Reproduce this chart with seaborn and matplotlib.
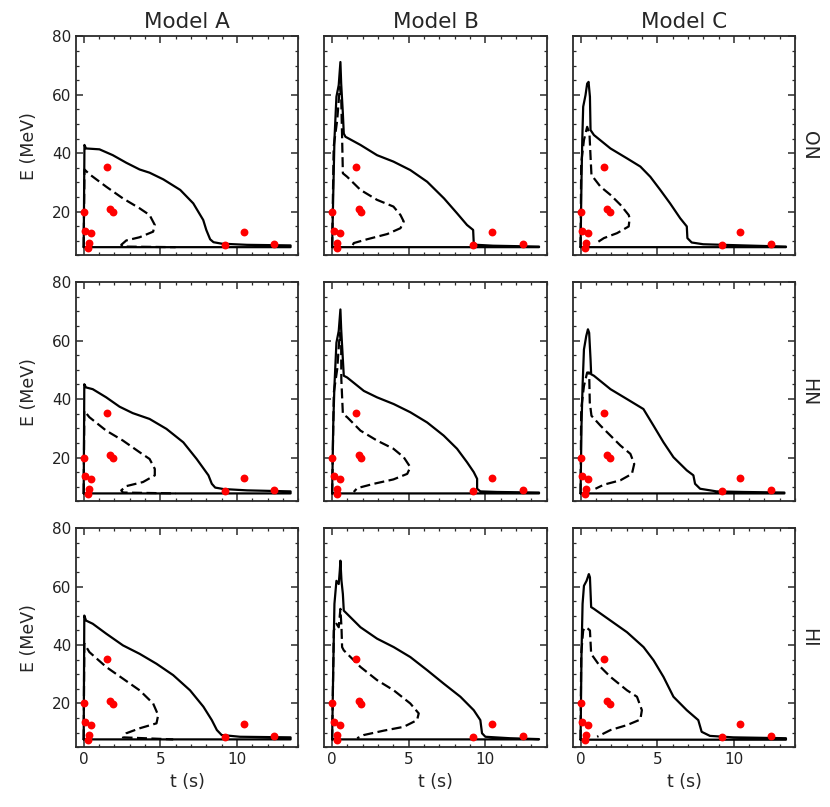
import matplotlib
matplotlib.use("Agg")
import matplotlib.pyplot as plt
from matplotlib.ticker import MultipleLocator
import seaborn as sns
import pandas as pd

# detected events (t in s, E in MeV)
EVENT_T = [0.0, 0.107, 0.303, 0.324, 0.507, 1.541, 1.728, 1.915, 9.219, 10.433, 12.439]
EVENT_E = [20.0, 13.5, 7.5, 9.2, 12.8, 35.4, 21.0, 19.8, 8.6, 13.0, 8.9]

MODELS = ["Model A", "Model B", "Model C"]
VARIANTS = ["ON", "HN", "HI"]

# ---- Model A ----
A_ON_SOLID_T = [0, 0.05, 0.15, 1.03, 1.9, 2.78, 3.65, 4.3, 5.2, 6.3, 7.15, 7.8, 8.0, 8.25, 8.47, 9.0, 10.65, 13.5, 13.5, 0]
A_ON_SOLID_E = [7.8, 42.8, 41.6, 41.3, 39.3, 36.7, 34.4, 33.3, 31.0, 27.4, 22.8, 17.1, 13.7, 10.5, 9.5, 9.0, 8.6, 8.4, 7.8, 7.8]
A_ON_DASH_T = [0, 0.05, 0.37, 1.47, 2.56, 3.65, 4.3, 4.64, 4.53, 3.65, 2.78, 2.45, 2.56, 6.0]
A_ON_DASH_E = [7.8, 34.4, 32.8, 28.5, 24.5, 21.1, 18.8, 15.4, 13.1, 11.2, 10.1, 8.6, 8.0, 7.8]

A_HN_SOLID_T = [0, 0.04, 0.15, 0.59, 1.47, 2.34, 3.2, 4.3, 5.4, 6.5, 7.37, 8.14, 8.36, 8.58, 9.12, 10.66, 13.5, 13.5, 0]
A_HN_SOLID_E = [7.7, 45.1, 44.0, 43.4, 40.6, 37.4, 35.2, 33.2, 29.8, 25.2, 19.5, 13.9, 11.0, 9.7, 9.2, 8.75, 8.4, 7.7, 7.7]
A_HN_DASH_T = [0, 0.04, 0.37, 1.47, 2.56, 3.65, 4.3, 4.64, 4.64, 3.87, 2.78, 2.45, 2.56, 6.0]
A_HN_DASH_E = [7.7, 36.0, 33.8, 29.2, 25.8, 21.8, 19.5, 16.1, 13.9, 11.6, 10.2, 8.75, 8.0, 7.7]

A_HI_SOLID_T = [0, 0.04, 0.15, 0.59, 1.47, 2.56, 3.65, 4.75, 5.84, 6.94, 7.81, 8.36, 8.69, 9.0, 10.2, 13.5, 13.5, 0]
A_HI_SOLID_E = [7.7, 50.1, 48.4, 47.3, 43.9, 39.9, 37.0, 33.6, 29.7, 24.5, 18.9, 14.3, 10.9, 9.2, 8.6, 8.4, 7.7, 7.7]
A_HI_DASH_T = [0, 0.04, 0.37, 1.47, 2.56, 3.65, 4.53, 4.86, 4.75, 3.65, 2.78, 2.56, 5.84]
A_HI_DASH_E = [7.7, 40.5, 37.6, 32.5, 28.5, 24.5, 20.0, 16.0, 13.2, 11.5, 9.8, 8.4, 7.7]

# ---- Model B ----
B_ON_SOLID_T = [0, 0.07, 0.15, 0.28, 0.43, 0.54, 0.59, 0.7, 0.76, 0.87, 1.85, 2.93, 4.0, 5.1, 6.2, 7.3, 8.15, 8.8, 9.2, 9.24, 9.45, 10.5, 13.5, 13.5, 0]
B_ON_SOLID_E = [7.8, 25.3, 44.5, 59.3, 63.3, 71.2, 63.8, 53.6, 46.7, 45.6, 42.8, 39.3, 37.1, 34.2, 30.2, 24.5, 19.4, 15.4, 13.7, 9.2, 8.6, 8.3, 8.0, 7.8, 7.8]
B_ON_DASH_T = [0, 0.1, 0.33, 0.5, 0.59, 0.65, 0.7, 0.98, 1.85, 2.93, 4.0, 4.46, 4.67, 4.46, 3.6, 2.28, 1.41, 1.3]
B_ON_DASH_E = [7.8, 42.2, 51.3, 62.7, 59.3, 45.6, 33.1, 31.9, 27.4, 24.0, 21.7, 18.8, 16.6, 14.3, 12.3, 10.5, 9.2, 8.0]

B_HN_SOLID_T = [0, 0.07, 0.15, 0.28, 0.43, 0.54, 0.59, 0.7, 0.76, 0.98, 2.07, 2.93, 4.02, 5.1, 6.2, 7.28, 8.15, 8.8, 9.24, 9.46, 9.46, 9.67, 10.76, 13.5, 13.5, 0]
B_HN_SOLID_E = [7.7, 30.9, 44.5, 59.3, 63.3, 70.7, 63.9, 53.6, 48.0, 47.4, 42.8, 40.6, 38.3, 35.5, 32.0, 27.5, 23.0, 18.4, 15.0, 12.7, 9.3, 8.4, 8.2, 8.0, 7.7, 7.7]
B_HN_DASH_T = [0, 0.11, 0.33, 0.5, 0.59, 0.6, 0.7, 0.98, 1.85, 2.93, 4.0, 4.67, 5.1, 4.9, 4.0, 2.72, 1.63, 1.41]
B_HN_DASH_E = [7.7, 42.3, 50.2, 62.7, 58.2, 46.8, 34.9, 33.8, 29.2, 25.8, 23.0, 20.1, 16.7, 14.4, 12.5, 11.0, 9.5, 8.2]

B_HI_SOLID_T = [0, 0.07, 0.15, 0.28, 0.43, 0.5, 0.54, 0.61, 0.7, 0.76, 1.85, 2.93, 4.02, 5.1, 6.2, 7.28, 8.37, 9.24, 9.67, 9.78, 10.0, 11.6, 13.5, 13.5, 0]
B_HI_SOLID_E = [7.7, 31.4, 54.1, 62.0, 60.9, 65.5, 68.9, 62.0, 57.5, 51.8, 46.1, 42.2, 39.3, 35.9, 31.4, 26.8, 22.3, 17.7, 14.3, 9.8, 8.6, 8.1, 7.8, 7.7, 7.7]
B_HI_DASH_T = [0, 0.11, 0.28, 0.43, 0.54, 0.61, 0.65, 0.76, 1.85, 2.93, 4.02, 5.1, 5.65, 5.54, 4.67, 3.37, 2.07, 1.63]
B_HI_DASH_E = [7.7, 45.0, 47.3, 46.1, 52.4, 46.1, 39.3, 38.2, 32.5, 28.0, 24.5, 20.0, 16.6, 14.3, 12.0, 10.7, 9.2, 8.1]

# ---- Model C ----
C_ON_SOLID_T = [0, 0.06, 0.11, 0.17, 0.32, 0.43, 0.52, 0.61, 0.65, 0.87, 1.95, 3.03, 3.9, 4.55, 5.2, 5.84, 6.5, 6.93, 6.97, 7.25, 8.0, 10.6, 13.4, 13.4, 0]
C_ON_SOLID_E = [7.8, 30.8, 44.5, 55.9, 59.8, 63.8, 64.4, 59.3, 47.9, 46.2, 41.6, 38.2, 35.4, 31.9, 27.4, 22.8, 17.7, 14.9, 10.9, 9.4, 8.8, 8.4, 8.0, 7.8, 7.8]
C_ON_DASH_T = [0, 0.04, 0.22, 0.43, 0.58, 0.65, 0.71, 1.3, 1.95, 2.6, 3.14, 3.2, 3.14, 2.38, 1.52, 1.08]
C_ON_DASH_E = [7.8, 36.5, 44.5, 49.0, 46.7, 38.8, 32.5, 28.5, 25.7, 22.3, 18.8, 17.7, 14.9, 12.6, 10.9, 9.4]

C_HN_SOLID_T = [0, 0.06, 0.13, 0.22, 0.37, 0.48, 0.56, 0.65, 0.69, 0.87, 1.95, 3.03, 4.1, 4.76, 5.41, 6.06, 6.93, 7.36, 7.47, 7.8, 8.87, 10.6, 13.3, 13.3, 0]
C_HN_SOLID_E = [7.7, 30.9, 44.5, 57.0, 61.6, 63.9, 62.7, 53.6, 48.5, 48.0, 43.4, 40.0, 36.6, 30.9, 25.2, 20.1, 15.6, 13.9, 11.0, 9.3, 8.4, 8.2, 8.0, 7.7, 7.7]
C_HN_DASH_T = [0, 0.04, 0.22, 0.43, 0.56, 0.6, 0.71, 1.3, 1.95, 2.6, 3.25, 3.5, 3.35, 2.6, 1.52, 0.97]
C_HN_DASH_E = [7.7, 36.6, 44.5, 49.1, 49.1, 38.9, 34.3, 30.9, 27.5, 24.1, 21.25, 17.8, 14.4, 12.2, 10.7, 9.3]

C_HI_SOLID_T = [0, 0.06, 0.13, 0.22, 0.39, 0.54, 0.61, 0.69, 0.87, 1.95, 3.03, 4.11, 4.76, 5.41, 6.06, 6.93, 7.68, 7.9, 8.44, 9.96, 13.4, 13.4, 0]
C_HI_SOLID_E = [7.6, 37.0, 54.1, 60.3, 62.0, 64.3, 63.2, 53.0, 52.4, 48.4, 44.4, 39.3, 34.8, 29.1, 22.3, 17.7, 14.3, 10.3, 8.9, 8.4, 8.1, 7.6, 7.6]
C_HI_DASH_T = [0, 0.04, 0.17, 0.32, 0.48, 0.61, 0.69, 1.3, 1.95, 3.03, 3.68, 4.0, 3.9, 3.03, 1.95, 1.08]
C_HI_DASH_E = [7.6, 37.0, 45.0, 46.1, 45.6, 45.0, 37.0, 32.5, 29.1, 24.5, 22.3, 17.7, 14.5, 12.6, 10.9, 8.6]

curves = {
    ("Model A", "ON"): (A_ON_SOLID_T, A_ON_SOLID_E, A_ON_DASH_T, A_ON_DASH_E),
    ("Model A", "HN"): (A_HN_SOLID_T, A_HN_SOLID_E, A_HN_DASH_T, A_HN_DASH_E),
    ("Model A", "HI"): (A_HI_SOLID_T, A_HI_SOLID_E, A_HI_DASH_T, A_HI_DASH_E),
    ("Model B", "ON"): (B_ON_SOLID_T, B_ON_SOLID_E, B_ON_DASH_T, B_ON_DASH_E),
    ("Model B", "HN"): (B_HN_SOLID_T, B_HN_SOLID_E, B_HN_DASH_T, B_HN_DASH_E),
    ("Model B", "HI"): (B_HI_SOLID_T, B_HI_SOLID_E, B_HI_DASH_T, B_HI_DASH_E),
    ("Model C", "ON"): (C_ON_SOLID_T, C_ON_SOLID_E, C_ON_DASH_T, C_ON_DASH_E),
    ("Model C", "HN"): (C_HN_SOLID_T, C_HN_SOLID_E, C_HN_DASH_T, C_HN_DASH_E),
    ("Model C", "HI"): (C_HI_SOLID_T, C_HI_SOLID_E, C_HI_DASH_T, C_HI_DASH_E),
}

rows = []
for (model, variant), (st, se, dt, de) in curves.items():
    for i, (t, e) in enumerate(zip(st, se)):
        rows.append(dict(model=model, variant=variant, kind="solid", order=i, t=t, E=e))
    for i, (t, e) in enumerate(zip(dt, de)):
        rows.append(dict(model=model, variant=variant, kind="dashed", order=i, t=t, E=e))
df = pd.DataFrame(rows)

sns.set_theme(style="ticks")
plt.rcParams["font.family"] = ["DejaVu Sans"]

SPINE = "#2b2b2b"


def draw_panel(data, **kws):
    ax = plt.gca()
    sns.lineplot(data=data, x="t", y="E", style="kind", style_order=["solid", "dashed"],
                 dashes={"solid": "", "dashed": (4.5, 2)}, color="black", linewidth=1.6,
                 estimator=None, sort=False, legend=False, ax=ax)
    sns.scatterplot(x=EVENT_T, y=EVENT_E, color="red", s=32, linewidth=0, zorder=3, ax=ax)


g = sns.FacetGrid(df, row="variant", col="model", row_order=VARIANTS, col_order=MODELS,
                  margin_titles=True, height=2.6, aspect=1.0, sharex=True, sharey=True)
g.map_dataframe(draw_panel)
g.set(xlim=(-0.5, 14), ylim=(5, 80))
g.set_axis_labels("t (s)", "E (MeV)", fontsize=12.5)
g.set_titles(col_template="{col_name}", row_template="{row_name}", size=15.5)

for ax in g.axes.flat:
    ax.xaxis.set_major_locator(MultipleLocator(5))
    ax.xaxis.set_minor_locator(MultipleLocator(1))
    ax.yaxis.set_major_locator(MultipleLocator(20))
    ax.yaxis.set_minor_locator(MultipleLocator(5))
    ax.tick_params(which="both", direction="in", top=True, right=True, colors=SPINE, labelcolor="#222222")
    ax.tick_params(which="major", length=5, width=1.1, labelsize=11)
    ax.tick_params(which="minor", length=2.5, width=0.9)
    for sp in ax.spines.values():
        sp.set_visible(True)
        sp.set_color(SPINE)
        sp.set_linewidth(1.3)

for ax in g.axes[:, 0]:
    ax.yaxis.labelpad = 10

# row labels on the right, slightly smaller than the column titles
for txt in g._margin_titles_texts:
    txt.set_fontsize(13.5)

g.figure.set_size_inches(8.3, 8.07)
g.figure.subplots_adjust(left=0.0916, right=0.958, top=0.955, bottom=0.074,
                         wspace=0.118, hspace=0.123)
g.figure.savefig("out.png", dpi=100)
